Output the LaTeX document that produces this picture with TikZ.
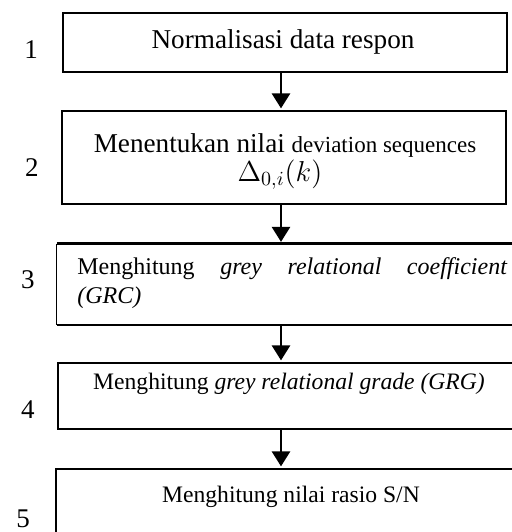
\documentclass[tikz,border=0pt]{standalone}
\usepackage{fontspec}
\setmainfont{Liberation Serif}
\usetikzlibrary{arrows.meta}
\tikzset{
  box/.style={draw=black, line width=1.1pt, rectangle, inner sep=0pt, anchor=north west},
  txt/.style={inner sep=0pt, anchor=base, font=\fontsize{11.8}{14}\selectfont},
  num/.style={inner sep=0pt, outer sep=0pt, anchor=base, font=\fontsize{13.5}{16}\selectfont},
  arr/.style={line width=1.3pt, -{Triangle[width=9pt,length=7.5pt]}, shorten >=0.8pt}
}
\begin{document}
\begin{tikzpicture}[x=0.5pt,y=-0.5pt]
\useasboundingbox (0,0) rectangle (512,532);
\clip (0,0) rectangle (512,532);
% boxes
\node[box, minimum width=222pt, minimum height=29.5pt] (b1) at (62,12) {};
\node[box, minimum width=222pt, minimum height=46.5pt] (b2) at (61,110) {};
\node[box, draw=none, minimum width=241.5pt, minimum height=39.75pt] (b3) at (57,243.5) {};
\draw[line width=1.1pt] (b3.north west) -- (b3.north east);
\draw[line width=1.1pt] (b3.south west) -- (b3.south east);
\draw[line width=0.5pt] (b3.north west) -- (b3.south west);
\node[box, minimum width=241.5pt, minimum height=33pt] (b4) at (57,362) {};
\node[box, minimum width=242.5pt, minimum height=46pt] (b5) at (55,468) {};
% texts
\node[txt, font=\fontsize{13.6}{16}\selectfont] (t1) at (283,48) {Normalisasi data respon};
\node[txt, font=\fontsize{13.6}{16}\selectfont] (t2a) at (285,152) {Menentukan nilai {\fontsize{11.5}{14}\selectfont deviation sequences}};
\node[txt, font=\fontsize{14.5}{17}\selectfont] (t2b) at (280,181) {$\Delta_{0,i}(k)$};
\node[txt, anchor=base west, font=\fontsize{12}{14}\selectfont] (t3a) at (77,274) {\hbox to 215pt{Menghitung\hfill\textit{grey}\hfill\textit{relational}\hfill\textit{coefficient}}};
\node[txt, anchor=base west, font=\fontsize{12}{14}\selectfont] (t3b) at (77,303) {\textit{(GRC)}};
\node[txt] (t4) at (289,389) {Menghitung \textit{grey relational grade (GRG)}};
\node[txt] (t5) at (291,502) {Menghitung nilai rasio S/N};
% numbers
\node[num] (n1) at (31,58) {1};
\node[num] (n2) at (32,176) {2};
\node[num] (n3) at (28,288) {3};
\node[num] (n4) at (28,418) {4};
\node[num] (n5) at (23,527) {5};
% arrows
\coordinate (ax) at (281,0);
\draw[arr] (ax |- b1.south) -- (ax |- b2.north);
\draw[arr] (ax |- b2.south) -- (ax |- b3.north);
\draw[arr] (ax |- b3.south) -- (ax |- b4.north);
\draw[arr] (ax |- b4.south) -- (ax |- b5.north);
\end{tikzpicture}
\end{document}
